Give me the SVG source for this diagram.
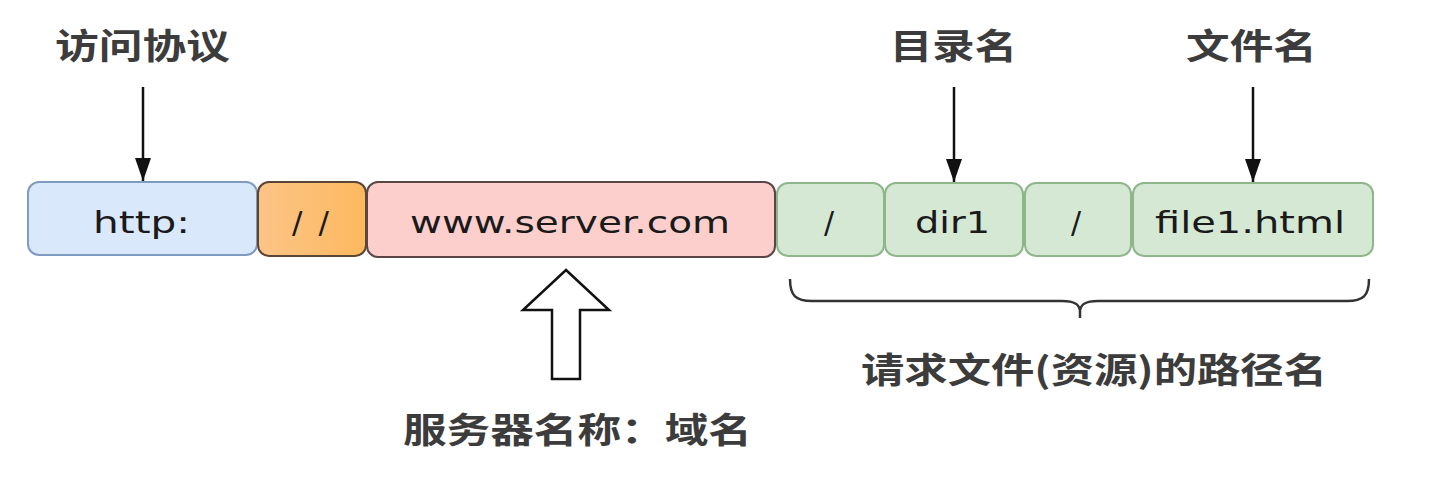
<svg xmlns="http://www.w3.org/2000/svg" width="1448" height="482" viewBox="0 0 1448 482">
<defs>
<marker id="ah" markerWidth="24" markerHeight="16" refX="23" refY="8" orient="auto" markerUnits="userSpaceOnUse">
<path d="M0,0 L23,8 L0,16 Z" fill="#111"/>
</marker>
<linearGradient id="og" x1="0" y1="0" x2="1" y2="0">
<stop offset="0" stop-color="#fbc487"/>
<stop offset="1" stop-color="#fdb95f"/>
</linearGradient>
<style>
.box{stroke-width:2}
.bt{font-family:"DejaVu Sans","Liberation Sans",sans-serif;font-size:31px;fill:#1a1a1a}
.sl{font-family:"DejaVu Sans","Liberation Sans",sans-serif;font-size:30px;fill:#1a1a1a;text-anchor:middle}
.lbl{font-family:"Noto Sans CJK SC","Noto Sans",sans-serif;font-weight:bold;font-size:35px;fill:#3c3c3c}
.ptr{stroke:#111;stroke-width:2.5;fill:none}
</style>
</defs>
<rect width="1448" height="482" fill="#ffffff"/>

<g id="node-http">
<rect class="box" x="28" y="182" width="229" height="73" rx="11" fill="#dae8fc" stroke="#7f9bbf"/>
<text class="bt" x="93" y="233" textLength="97" lengthAdjust="spacingAndGlyphs">http:</text>
</g>
<g id="node-slashes">
<rect class="box" x="258" y="182" width="108" height="74" rx="11" fill="url(#og)" stroke="#5a4636"/>
<text class="bt" x="292" y="233" textLength="37" lengthAdjust="spacing">//</text>
</g>
<g id="node-server">
<rect class="box" x="367" y="182" width="408" height="75" rx="11" fill="#fccfcd" stroke="#5a4646"/>
<text class="bt" x="410" y="233" textLength="320" lengthAdjust="spacingAndGlyphs">www.server.com</text>
</g>
<g id="node-slash1">
<rect class="box" x="777" y="183" width="107" height="73" rx="11" fill="#d5e8d4" stroke="#8fb58a"/>
<text class="sl" x="829" y="233">/</text>
</g>
<g id="node-dir1">
<rect class="box" x="885" y="183" width="138" height="73" rx="11" fill="#d5e8d4" stroke="#8fb58a"/>
<text class="bt" x="915" y="233" textLength="75" lengthAdjust="spacingAndGlyphs">dir1</text>
</g>
<g id="node-slash2">
<rect class="box" x="1025" y="183" width="106" height="73" rx="11" fill="#d5e8d4" stroke="#8fb58a"/>
<text class="sl" x="1076" y="233">/</text>
</g>
<g id="node-file1">
<rect class="box" x="1133" y="183" width="240" height="73" rx="11" fill="#d5e8d4" stroke="#8fb58a"/>
<text class="bt" x="1155" y="233" textLength="190" lengthAdjust="spacingAndGlyphs">file1.html</text>
</g>

<g id="label-protocol"><text class="lbl" x="55" y="59" textLength="175" lengthAdjust="spacingAndGlyphs">访问协议</text></g>
<g id="label-dir"><text class="lbl" x="890" y="59" textLength="127" lengthAdjust="spacingAndGlyphs">目录名</text></g>
<g id="label-file"><text class="lbl" x="1186" y="59" textLength="131" lengthAdjust="spacingAndGlyphs">文件名</text></g>
<g id="label-path"><text class="lbl" x="861" y="383" textLength="466" lengthAdjust="spacingAndGlyphs">请求文件(资源)的路径名</text></g>
<g id="label-server"><text class="lbl" x="403" y="443" textLength="349" lengthAdjust="spacingAndGlyphs">服务器名称：域名</text></g>

<g id="connectors">
<line class="ptr" x1="143" y1="87" x2="143" y2="181" marker-end="url(#ah)"/>
<line class="ptr" x1="954" y1="87" x2="954" y2="182" marker-end="url(#ah)"/>
<line class="ptr" x1="1253" y1="87" x2="1253" y2="182" marker-end="url(#ah)"/>
<polygon points="566,270 609,310 580,310 580,379 552,379 552,310 523,310" fill="#ffffff" stroke="#111" stroke-width="2.5" stroke-linejoin="miter"/>
<path d="M790,279 C790,296 796,301 812,301 L1062,301 C1074,301 1080,304 1080,312 L1080,318 M1080,312 C1080,304 1086,301 1098,301 L1347,301 C1363,301 1369,296 1369,279" fill="none" stroke="#333" stroke-width="2.5"/>
</g>
</svg>
